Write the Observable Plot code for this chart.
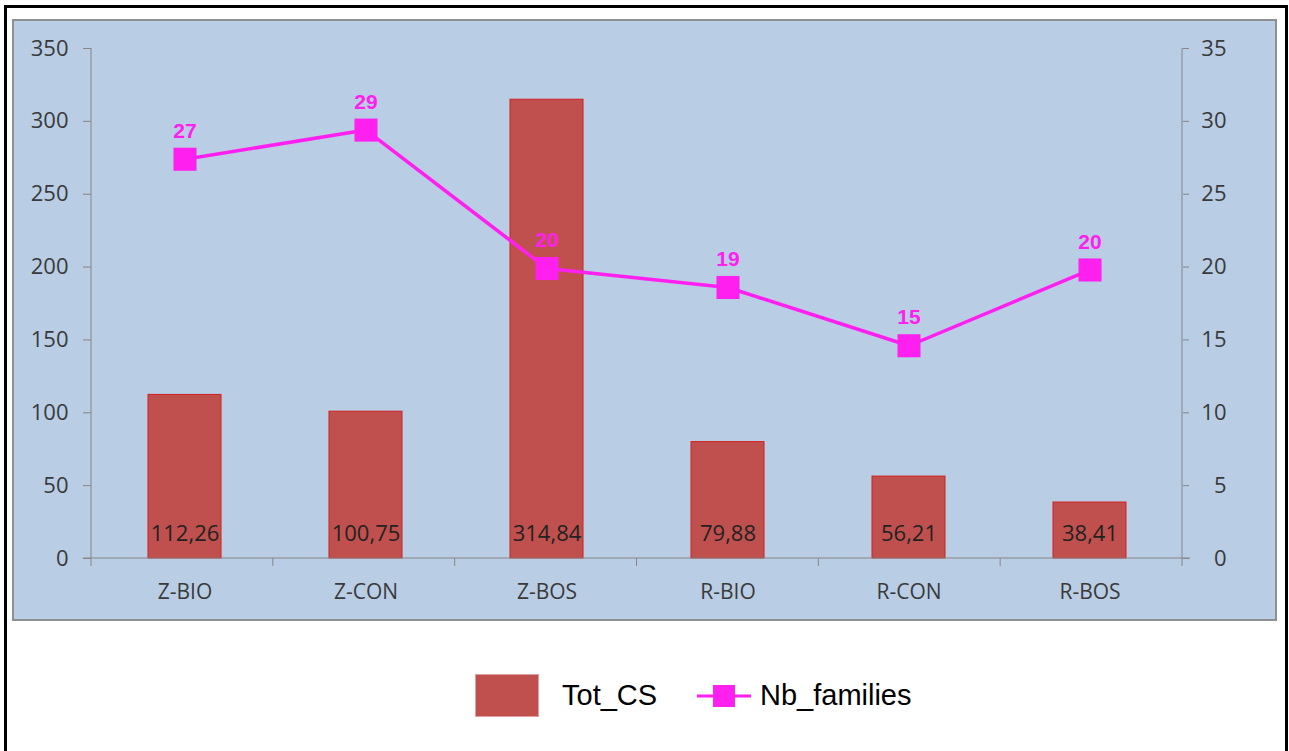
<!DOCTYPE html>
<html>
<head>
<meta charset="utf-8">
<script src="https://cdn.jsdelivr.net/npm/d3@7"></script>
<script src="https://cdn.jsdelivr.net/npm/@observablehq/plot@0.6"></script>
<style>
  html, body { margin: 0; padding: 0; background: #ffffff; }
  #wrap { position: relative; width: 1289px; height: 751px; overflow: hidden; background: #fff; }
  #outer { position: absolute; left: 4px; top: 5px; width: 1284px; height: 752px; box-sizing: border-box; border: 3px solid #000; }
  #panel { position: absolute; left: 12px; top: 19px; width: 1265px; height: 602px; box-sizing: border-box; border: 2px solid #8f8f8f; background: #B9CDE5; }
  #chart { position: absolute; left: 0; top: 0; }
  .legend { position: absolute; font-family: "Liberation Sans", Arial, sans-serif; font-size: 29px; color: #000; line-height: 1; }
</style>
</head>
<body>
<div id="wrap">
  <div id="outer"></div>
  <div id="panel"></div>
  <div id="chart"></div>
  <div class="legend" style="left:475px;top:674px;width:64px;height:43px;background:#C0504D;box-sizing:border-box;border:1px solid #e0a09e;"></div>
  <div class="legend" style="left:562px;top:681px;">Tot_CS</div>
  <svg class="legend" style="left:695px;top:682px;" width="58" height="28">
    <line x1="2" y1="14" x2="56" y2="14" stroke="#FF20F0" stroke-width="3"></line>
    <rect x="18" y="3" width="22" height="22" fill="#FF20F0"></rect>
  </svg>
  <div class="legend" style="left:760px;top:681px;">Nb_families</div>
</div>
<script>
const categories = ["Z-BIO", "Z-CON", "Z-BOS", "R-BIO", "R-CON", "R-BOS"];
const totCS = [112.26, 100.75, 314.84, 79.88, 56.21, 38.41];
const nbFamilies = [27.4, 29.4, 19.9, 18.6, 14.6, 19.8];
const nbLabels = [27, 29, 20, 19, 15, 20];
const leftTicks = [0, 50, 100, 150, 200, 250, 300, 350];
const rightTicks = [0, 5, 10, 15, 20, 25, 30, 35];

const leftMax = 350, rightMax = 35;
const ratio = leftMax / rightMax;

const data = categories.map((c, i) => ({cat: c, tot: totCS[i], nb: nbFamilies[i], nbLabel: nbLabels[i]}));
const fmt = v => d3.format(".2f")(v).replace(".", ",");

const W = 1289, H = 640;
const magenta = "#FF20F0";
const tickFont = "'Open Sans', sans-serif";

const plot = Plot.plot({
  width: W,
  height: H,
  marginLeft: 91,
  marginRight: 107,
  marginTop: 48,
  marginBottom: 82,
  style: {background: "transparent", overflow: "visible", fontFamily: tickFont},
  x: {type: "band", domain: categories, padding: 0},
  y: {domain: [0, leftMax]},
  marks: [
    Plot.barY(data, {x: "cat", y: "tot", fill: "#C0504D", stroke: "#D0201C", strokeWidth: 1, insetLeft: 54, insetRight: 54}),
    Plot.text(data, {x: "cat", y: 0, text: d => fmt(d.tot), dy: -25, fill: "#222", fontSize: 22, fontFamily: tickFont}),
    Plot.axisY({anchor: "left", ticks: leftTicks, tickSize: 8, tickPadding: 15, stroke: "#868686", fill: "#3a3a3a", fontSize: 22, fontFamily: tickFont, label: null}),
    Plot.axisY({anchor: "right", ticks: rightTicks.map(t => t * ratio), tickFormat: d => String(Math.round(d / ratio)), tickSize: 6, tickPadding: 38, textAnchor: "end", stroke: "#868686", fill: "#3a3a3a", fontSize: 22, fontFamily: tickFont, label: null}),
    Plot.axisX({tickSize: 0, tickPadding: 26, fill: "#3a3a3a", fontSize: 21, fontFamily: tickFont, label: null}),
    Plot.line(data, {x: "cat", y: d => d.nb * ratio, stroke: magenta, strokeWidth: 3.5}),
    Plot.dot(data, {x: "cat", y: d => d.nb * ratio, symbol: "square", r: 13, fill: magenta, stroke: "none"}),
    Plot.text(data, {x: "cat", y: d => d.nb * ratio, text: d => String(d.nbLabel), dy: -28, fill: magenta, fontSize: 21, fontWeight: "bold", fontFamily: "'Liberation Sans', Arial, sans-serif"})
  ]
});

// axis lines and category boundary ticks, derived from the plot's scales
const xs = plot.scale("x"), ys = plot.scale("y");
const [x0, x1] = xs.range;
const y0 = ys.apply(0), yTop = ys.apply(leftMax);
const n = categories.length;
const g = d3.select(plot).append("g").attr("stroke", "#868686").attr("stroke-width", 1).attr("fill", "none");
g.append("line").attr("x1", x0 - 8).attr("x2", x1 + 8).attr("y1", y0).attr("y2", y0);
g.append("line").attr("x1", x0).attr("x2", x0).attr("y1", yTop).attr("y2", y0 + 8);
g.append("line").attr("x1", x1).attr("x2", x1).attr("y1", yTop).attr("y2", y0 + 8);
for (let i = 1; i < n; i++) {
  const xb = x0 + i * (x1 - x0) / n;
  g.append("line").attr("x1", xb).attr("x2", xb).attr("y1", y0).attr("y2", y0 + 8);
}
document.getElementById("chart").appendChild(plot);
// keep the line series above the axis lines
const marksG = Array.from(plot.children);
const lineIdx = marksG.findIndex(el => el.getAttribute && el.getAttribute("aria-label") === "line");
if (lineIdx >= 0) plot.insertBefore(g.node(), marksG[lineIdx]);
</script>
</body>
</html>
